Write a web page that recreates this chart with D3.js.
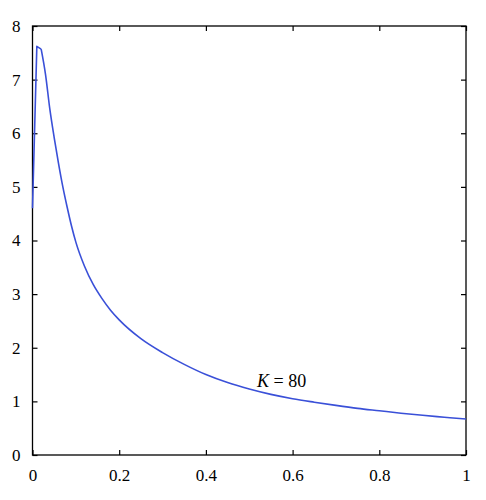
<!DOCTYPE html>
<html>
<head>
<meta charset="utf-8">
<script src="https://cdn.jsdelivr.net/npm/d3@7"></script>
<style>
  body { margin: 0; background: #fff; }
  svg text { font-family: "Liberation Serif"; }
</style>
</head>
<body>
<script>
// curve values
var xs = [0, 0.01, 0.02, 0.03, 0.04, 0.05, 0.06, 0.07, 0.08, 0.09, 0.10,
          0.12, 0.14, 0.16, 0.18, 0.20, 0.25, 0.30, 0.35, 0.40,
          0.45, 0.50, 0.55, 0.60, 0.65, 0.70, 0.75, 0.80, 0.85, 0.90, 0.95, 1.0];
var ys = [4.6, 7.62, 7.57, 7.1, 6.45, 5.92, 5.44, 5.0, 4.62, 4.27, 3.97,
          3.52, 3.18, 2.92, 2.70, 2.52, 2.17, 1.91, 1.69, 1.50,
          1.35, 1.23, 1.13, 1.05, 0.985, 0.925, 0.87, 0.825, 0.78, 0.74, 0.705, 0.67];
var xTicks = [0, 0.2, 0.4, 0.6, 0.8, 1];
var yTicks = [0, 1, 2, 3, 4, 5, 6, 7, 8];
var label = {x: 0.518, y: 1.27, k: "K", rest: " = 80"};

var W = 486, H = 500;
var margin = {top: 26, right: 20, bottom: 45, left: 32.5};
var width = W - margin.left - margin.right,
    height = H - margin.top - margin.bottom;

var svg = d3.select("body").append("svg")
    .attr("width", W).attr("height", H)
  .append("g")
    .attr("transform", "translate(" + margin.left + "," + margin.top + ")");

var x = d3.scaleLinear().domain([0, 1]).range([0, width]);
var y = d3.scaleLinear().domain([0, 8]).range([height, 0]);

var data = xs.map(function(d, i) { return {x: d, y: ys[i]}; });

// ticks pointing inward on all four sides
var tick = 5;
function styleAxis(g) {
  g.attr("font-family", null).attr("font-size", 17);
  g.select(".domain").remove();
  g.selectAll("line").attr("stroke", "#000").attr("stroke-width", 1.2);
  g.selectAll("text").attr("fill", "#000");
}
svg.append("g")
    .attr("transform", "translate(0," + height + ")")
    .call(d3.axisBottom(x).tickValues(xTicks).tickSize(-tick).tickPadding(14)
      .tickFormat(function(d) { return d === 0 || d === 1 ? d : d3.format(".1f")(d); }))
    .call(styleAxis);
svg.append("g")
    .call(d3.axisTop(x).tickValues(xTicks).tickSize(-tick).tickFormat(""))
    .call(styleAxis);
svg.append("g")
    .call(d3.axisLeft(y).tickValues(yTicks).tickSize(-tick).tickPadding(12).tickFormat(d3.format("d")))
    .call(styleAxis);
svg.append("g")
    .attr("transform", "translate(" + width + ",0)")
    .call(d3.axisRight(y).tickValues(yTicks).tickSize(-tick).tickFormat(""))
    .call(styleAxis);

svg.append("rect")
    .attr("width", width).attr("height", height)
    .attr("fill", "none").attr("stroke", "#000").attr("stroke-width", 1.3);

var line = d3.line()
    .x(function(d) { return x(d.x); })
    .y(function(d) { return y(d.y); });

// sharp start up to the peak, smooth decay after it
svg.append("path")
    .datum(data.slice(0, 3))
    .attr("d", line.curve(d3.curveLinear))
    .attr("fill", "none")
    .attr("stroke", "#3a50d8")
    .attr("stroke-width", 1.6)
    .attr("stroke-linejoin", "round");
svg.append("path")
    .datum(data.slice(2))
    .attr("d", line.curve(d3.curveMonotoneX))
    .attr("fill", "none")
    .attr("stroke", "#3a50d8")
    .attr("stroke-width", 1.6)
    .attr("stroke-linejoin", "round");

var t = svg.append("text")
    .attr("x", x(label.x)).attr("y", y(label.y))
    .attr("font-size", 18).attr("fill", "#000");
t.append("tspan").attr("font-style", "italic").text(label.k);
t.append("tspan").text(label.rest);
</script>
</body>
</html>
